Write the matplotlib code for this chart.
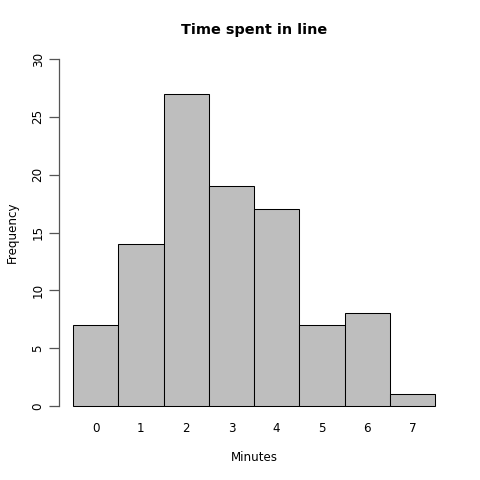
import matplotlib
matplotlib.use("Agg")
import matplotlib.pyplot as plt

# data
minutes = ["0", "1", "2", "3", "4", "5", "6", "7"]
counts = [7, 14, 27, 19, 17, 7, 8, 1]
y_ticks = [0, 5, 10, 15, 20, 25, 30]

plt.rcParams["font.family"] = "DejaVu Sans"

fig = plt.figure(figsize = (4.8, 4.8), dpi = 100)
ax = fig.add_axes([0.1219, 0.1252, 0.8146, 0.7808])

pos = [i + 0.5 for i in range(len(counts))]
ax.bar(pos, counts, width = 1.0, color = "#bebebe",
       edgecolor = "black", linewidth = 0.75)

ax.set_xlim(-0.32, 8.32)
ax.set_ylim(-1.2, 31.2)

# R-style axes: only a left axis line spanning the tick range
for side in ["top", "right", "bottom"]:
  ax.spines[side].set_visible(False)
ax.spines["left"].set_bounds(0, 30)
ax.spines["left"].set_color("#555555")
ax.spines["left"].set_linewidth(0.9)

ax.set_yticks(y_ticks)
ax.set_yticklabels([str(t) for t in y_ticks], rotation = 90, va = "center")
ax.tick_params(axis = "y", length = 7, width = 0.9, color = "#555555",
               labelsize = 8.6, pad = 3)

ax.set_xticks(pos)
ax.set_xticklabels(minutes)
ax.tick_params(axis = "x", length = 0, labelsize = 8.6, pad = 1.5)

ax.set_xlabel("Minutes", fontsize = 8.6, labelpad = 11.5)
ax.set_ylabel("Frequency", fontsize = 8.6, labelpad = 9)
ax.set_title("Time spent in line", fontsize = 10.4, fontweight = "bold", pad = 8)

fig.savefig("out.png", dpi = 100)
